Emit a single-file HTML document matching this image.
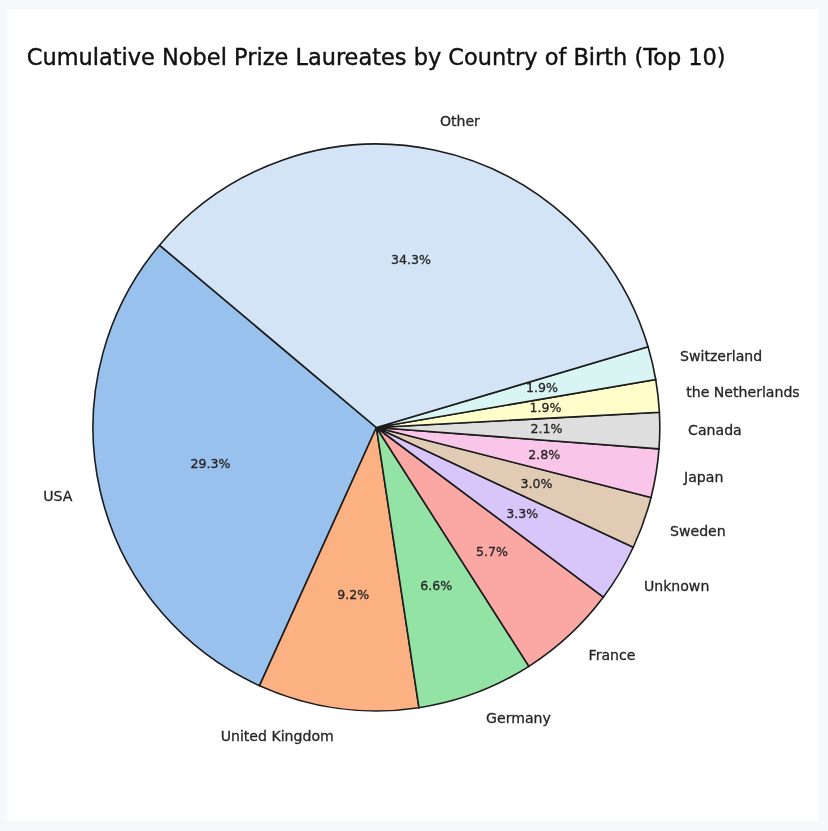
<!DOCTYPE html>
<html lang="en"><head><meta charset="utf-8"><title>Cumulative Nobel Prize Laureates by Country of Birth (Top 10)</title>
<style>
html,body{margin:0;padding:0}
body{width:828px;height:831px;background:#f7f8fa;position:relative;overflow:hidden;font-family:"DejaVu Sans","Liberation Sans",sans-serif}
.card{position:absolute;left:7px;top:9px;width:811px;height:812px;background:#fff}
svg{position:absolute;left:0;top:0}
text{font-family:"DejaVu Sans","Liberation Sans",sans-serif;fill:#262626;stroke:#262626;stroke-width:0.3px}
.lb{font-size:14.1px}
.pc{font-size:12.6px}
.tt{font-size:22.46px;fill:#111;stroke:#111;stroke-width:0.4px}
.w path{stroke:#1c1c1c;stroke-width:1.6;stroke-linejoin:miter}
</style></head><body>
<div class="card"></div>
<svg width="828" height="831" viewBox="0 0 828 831">
<text x="376.2" y="64.8" text-anchor="middle" class="tt">Cumulative Nobel Prize Laureates by Country of Birth (Top 10)</text>
<g class="w">
<path d="M376.40 427.50L159.46 245.14A283.4 283.4 0 0 0 259.55 685.69Z" fill="#99c1ee"/>
<path d="M376.40 427.50L259.55 685.69A283.4 283.4 0 0 0 418.97 707.68Z" fill="#fcb183"/>
<path d="M376.40 427.50L418.97 707.68A283.4 283.4 0 0 0 528.92 666.36Z" fill="#93e3a5"/>
<path d="M376.40 427.50L528.92 666.36A283.4 283.4 0 0 0 603.45 597.10Z" fill="#fba8a4"/>
<path d="M376.40 427.50L603.45 597.10A283.4 283.4 0 0 0 633.25 547.27Z" fill="#d8c6fb"/>
<path d="M376.40 427.50L633.25 547.27A283.4 283.4 0 0 0 651.03 497.45Z" fill="#e2cbb4"/>
<path d="M376.40 427.50L651.03 497.45A283.4 283.4 0 0 0 658.99 448.90Z" fill="#f9c6ea"/>
<path d="M376.40 427.50L658.99 448.90A283.4 283.4 0 0 0 659.39 412.27Z" fill="#dedede"/>
<path d="M376.40 427.50L659.39 412.27A283.4 283.4 0 0 0 655.71 379.51Z" fill="#fffecb"/>
<path d="M376.40 427.50L655.71 379.51A283.4 283.4 0 0 0 648.06 346.77Z" fill="#d9f5f3"/>
<path d="M376.40 427.50L648.06 346.77A283.4 283.4 0 0 0 159.46 245.14Z" fill="#d4e4f7"/>
</g>
<g>
<text x="72.4" y="500.5" text-anchor="end" class="lb">USA</text>
<text x="210.6" y="467.9" text-anchor="middle" class="pc">29.3%</text>
<text x="333.8" y="740.9" text-anchor="end" class="lb">United Kingdom</text>
<text x="353.2" y="599.4" text-anchor="middle" class="pc">9.2%</text>
<text x="486.1" y="723.2" text-anchor="start" class="lb">Germany</text>
<text x="436.2" y="590.1" text-anchor="middle" class="pc">6.6%</text>
<text x="588.6" y="659.8" text-anchor="start" class="lb">France</text>
<text x="492.1" y="555.5" text-anchor="middle" class="pc">5.7%</text>
<text x="643.9" y="591.4" text-anchor="start" class="lb">Unknown</text>
<text x="522.3" y="518.2" text-anchor="middle" class="pc">3.3%</text>
<text x="670.0" y="536.2" text-anchor="start" class="lb">Sweden</text>
<text x="536.5" y="488.1" text-anchor="middle" class="pc">3.0%</text>
<text x="684.0" y="481.8" text-anchor="start" class="lb">Japan</text>
<text x="544.2" y="458.5" text-anchor="middle" class="pc">2.8%</text>
<text x="688.1" y="434.8" text-anchor="start" class="lb">Canada</text>
<text x="546.4" y="432.8" text-anchor="middle" class="pc">2.1%</text>
<text x="686.2" y="396.6" text-anchor="start" class="lb">the Netherlands</text>
<text x="545.4" y="412.0" text-anchor="middle" class="pc">1.9%</text>
<text x="680.0" y="360.5" text-anchor="start" class="lb">Switzerland</text>
<text x="542.0" y="392.3" text-anchor="middle" class="pc">1.9%</text>
<text x="439.9" y="126.2" text-anchor="start" class="lb">Other</text>
<text x="411.0" y="263.7" text-anchor="middle" class="pc">34.3%</text>
</g>
</svg>
</body></html>
